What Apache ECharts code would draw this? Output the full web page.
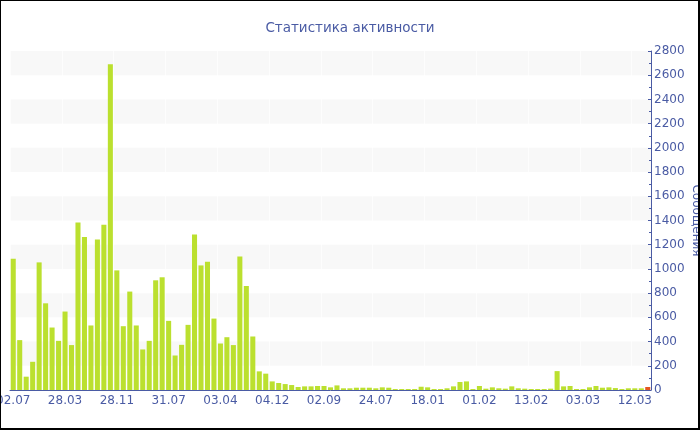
<!DOCTYPE html>
<html>
<head>
<meta charset="utf-8">
<script src="https://cdn.jsdelivr.net/npm/echarts@6/dist/echarts.min.js"></script>
<style>
  html, body { margin: 0; padding: 0; background: #fff; }
  #chart { width: 700px; height: 430px; }
</style>
</head>
<body>
<div id="chart"></div>
<script>
// Labels shown on the date axis (every 8th day)
const tickLabels = ['02.07', '28.03', '28.11', '31.07', '03.04', '04.12', '02.09',
                    '24.07', '18.01', '01.02', '13.02', '03.03', '12.03'];
const labelStep = 8;

// Messages per day
const messages = [
  1084, 412, 110, 233, 1054, 716, 516, 406, 648, 371,
  1383, 1263, 533, 1243, 1364, 2690, 988, 527, 813, 533,
  335, 406, 906, 931, 571, 285, 373, 538, 1285, 1029,
  1060, 590, 384, 436, 371, 1103, 859, 442, 154, 135,
  71, 58, 49, 41, 25, 30, 30, 33, 33, 22,
  38, 14, 14, 19, 19, 19, 14, 22, 19, 8,
  8, 8, 8, 27, 22, 8, 8, 14, 30, 66,
  71, 8, 33, 11, 22, 14, 11, 30, 14, 11,
  8, 8, 8, 11, 156, 30, 33, 8, 8, 22,
  33, 19, 22, 16, 8, 14, 14, 14, 25
];

// The current (incomplete) day is highlighted
const currentIndex = messages.length - 1;

const categories = messages.map((_, i) =>
  i % labelStep === 0 ? (tickLabels[i / labelStep] || '') : '');

const BLUE = '#4a5ba4';
const FONT = 'DejaVu Sans';

const chart = echarts.init(document.getElementById('chart'), null, { renderer: 'canvas' });

chart.setOption({
  backgroundColor: '#ffffff',
  animation: false,
  title: {
    text: 'Статистика активности',
    left: 'center',
    top: 16,
    textStyle: { color: BLUE, fontFamily: FONT, fontSize: 13.5, fontWeight: 'normal' }
  },
  grid: { left: 10, right: 49, top: 51, bottom: 40, containLabel: false, outerBoundsMode: 'none' },
  xAxis: {
    type: 'category',
    data: categories,
    boundaryGap: true,
    axisLine: { lineStyle: { color: BLUE, width: 1 } },
    axisTick: { alignWithLabel: true, interval: labelStep - 1, length: 3, lineStyle: { color: BLUE } },
    axisLabel: {
      interval: labelStep - 1,
      color: BLUE,
      fontFamily: FONT,
      fontSize: 12,
      margin: 5,
      hideOverlap: false
    },
    splitLine: { show: true, interval: labelStep - 1, lineStyle: { color: 'rgba(255,255,255,0.7)', width: 1 } }
  },
  yAxis: {
    type: 'value',
    position: 'right',
    min: 0,
    max: 2800,
    interval: 200,
    name: 'Сообщения',
    nameLocation: 'middle',
    nameRotate: -90,
    nameGap: 39,
    nameMoveOverlap: false,
    nameTextStyle: { color: BLUE, fontFamily: FONT, fontSize: 12 },
    axisLine: { show: true, lineStyle: { color: BLUE, width: 1 } },
    axisTick: { show: true, inside: true, length: 3, lineStyle: { color: BLUE } },
    minorTick: { show: true, splitNumber: 2, length: 2, lineStyle: { color: BLUE } },
    axisLabel: {
      color: BLUE, fontFamily: FONT, fontSize: 12, margin: 3,
      formatter: (v) => String(v)
    },
    splitLine: { show: false },
    splitArea: { show: true, areaStyle: { color: ['rgba(255,255,255,0)', '#f8f8f8'] } }
  },
  series: [{
    type: 'bar',
    barCategoryGap: '22%',
    data: messages.map((v, i) => i === currentIndex
      ? { value: v, itemStyle: { color: '#e4561f' } }
      : v),
    itemStyle: { color: '#bbe02f' },
    z: 3
  }],
  graphic: [{
    type: 'rect',
    shape: { x: 0, y: 0, width: 699, height: 429 },
    style: { fill: 'none', stroke: '#000000', lineWidth: 2 },
    silent: true,
    z: 100
  }]
});
</script>
</body>
</html>
